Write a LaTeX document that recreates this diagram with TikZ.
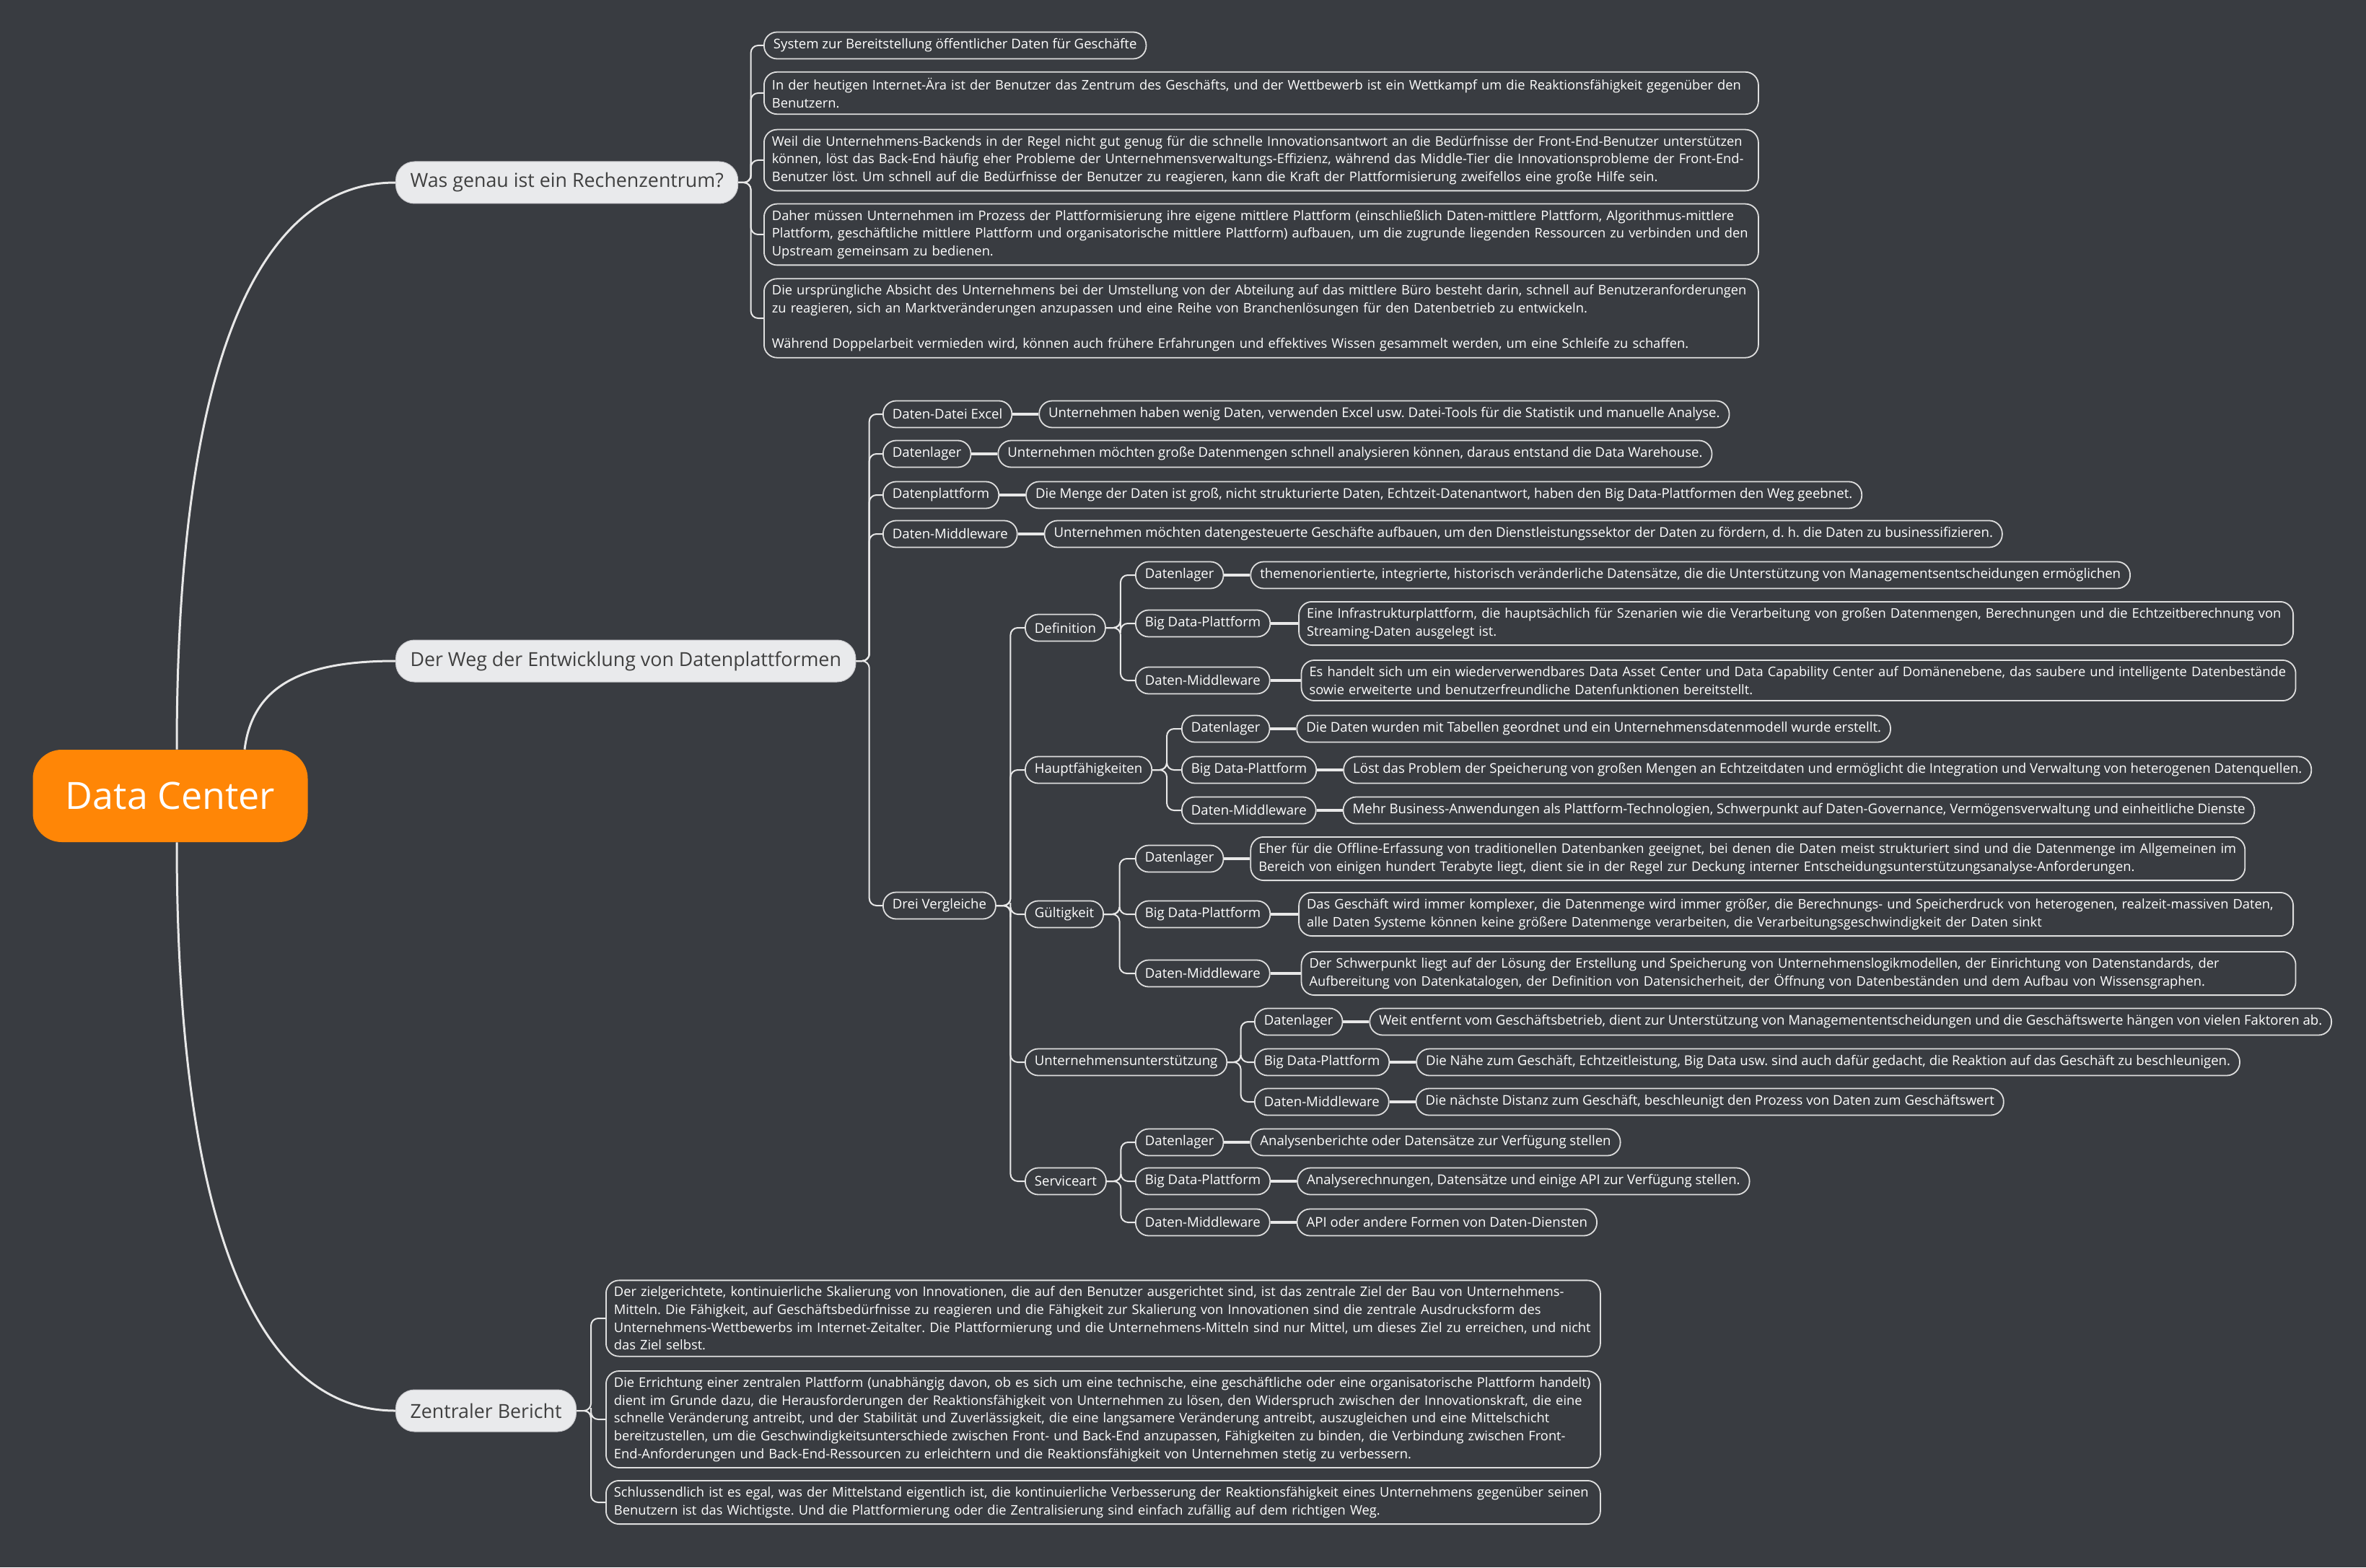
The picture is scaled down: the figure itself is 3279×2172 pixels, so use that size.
\documentclass[tikz,border=0pt]{standalone}
\usepackage{fontspec}
\setmainfont{Open Sans}
\usetikzlibrary{positioning,calc}
\definecolor{bgc}{RGB}{57,60,65}
\definecolor{rootc}{RGB}{255,134,6}
\definecolor{mainfill}{RGB}{233,234,236}
\definecolor{mainborder}{RGB}{200,200,204}
\definecolor{maintext}{RGB}{64,64,64}
\definecolor{linec}{RGB}{232,232,232}
\definecolor{boxline}{RGB}{222,222,222}
\newcommand\leaffont{\frenchspacing\fontsize{9.3}{12.3}\selectfont}
\newcommand\notefont{\frenchspacing\fontsize{9.15}{12.3}\selectfont}
\newcommand\mainfontsz{\fontsize{13.4}{16}\selectfont}
\newcommand\rootfontsz{\fontsize{26}{30}\selectfont}
\newcommand\treeconn[2]{\draw[conn] (#1.east) -| ($(#1.east)!.5!(#2.west)$) |- (#2.west);}
\newcommand\leafconn[2]{\draw[lconn] (#1.east) -- (#2.west);}
\tikzset{
 rootnode/.style={fill=rootc, text=white, rounded corners=20pt, minimum width=190.5pt, minimum height=64pt, font=\rootfontsz, inner sep=0pt},
 mainnode/.style={fill=mainfill, draw=mainborder, line width=0.5pt, text=maintext, rounded corners=13pt, minimum height=29pt, inner xsep=10pt, font=\mainfontsz, anchor=west},
 leaf/.style={draw=boxline, line width=0.9pt, rounded corners=9pt, text=white, font=\leaffont, inner xsep=6.5pt, inner ysep=4.3pt, minimum height=18.5pt, align=left, anchor=west},
 note/.style={leaf, font=\notefont, inner xsep=5.5pt, text width=678pt},
 conn/.style={draw=linec, line width=1pt, rounded corners=5pt},
 lconn/.style={draw=linec, line width=1.6pt},
 maincurve/.style={draw=linec, line width=1.5pt},
}
\begin{document}
\begin{tikzpicture}[x=0.5pt,y=-0.5pt]
\useasboundingbox (0,0) rectangle (3279,2172);
\fill[bgc] (0,0) rectangle (3279,2172);

% root and main topics
\node[rootnode] (root) at (236,1103) {Data Center};
\node[mainnode] (m1) at (548,253) {Was genau ist ein Rechenzentrum?};
\node[mainnode] (m2) at (548,916) {Der Weg der Entwicklung von Datenplattformen};
\node[mainnode] (m3) at (548,1955) {Zentraler Bericht};

\draw[maincurve] ([xshift=4.5pt]root.north) .. controls +(0,-589) and +(-168,0) .. (m1.west);
\draw[maincurve] ([xshift=51.5pt]root.north) .. controls +(11,-89) and +(-128,0) .. (m2.west);
\draw[maincurve] ([xshift=4.5pt]root.south) .. controls +(0,589) and +(-168,0) .. (m3.west);

% ---- Was genau ist ein Rechenzentrum?
\node[leaf] (a1) at (1058,63) {System zur Bereitstellung öffentlicher Daten für Geschäfte};
\node[note] (a2) at (1058,129) {In der heutigen Internet-Ära ist der Benutzer das Zentrum des Geschäfts, und der Wettbewerb ist ein Wettkampf um die Reaktionsfähigkeit gegenüber den\\Benutzern.};
\node[note] (a3) at (1058,222) {Weil die Unternehmens-Backends in der Regel nicht gut genug für die schnelle Innovationsantwort an die Bedürfnisse der Front-End-Benutzer unterstützen\\können, löst das Back-End häufig eher Probleme der Unternehmensverwaltungs-Effizienz, während das Middle-Tier die Innovationsprobleme der Front-End-\\Benutzer löst. Um schnell auf die Bedürfnisse der Benutzer zu reagieren, kann die Kraft der Plattformisierung zweifellos eine große Hilfe sein.};
\node[note] (a4) at (1058,325) {Daher müssen Unternehmen im Prozess der Plattformisierung ihre eigene mittlere Plattform (einschließlich Daten-mittlere Plattform, Algorithmus-mittlere\\Plattform, geschäftliche mittlere Plattform und organisatorische mittlere Plattform) aufbauen, um die zugrunde liegenden Ressourcen zu verbinden und den\\Upstream gemeinsam zu bedienen.};
\node[note] (a5) at (1058,441) {Die ursprüngliche Absicht des Unternehmens bei der Umstellung von der Abteilung auf das mittlere Büro besteht darin, schnell auf Benutzeranforderungen\\zu reagieren, sich an Marktveränderungen anzupassen und eine Reihe von Branchenlösungen für den Datenbetrieb zu entwickeln.\\[12.3pt]Während Doppelarbeit vermieden wird, können auch frühere Erfahrungen und effektives Wissen gesammelt werden, um eine Schleife zu schaffen.};
\foreach \c in {a1,a2,a3,a4,a5} {\treeconn{m1}{\c}}

% ---- Der Weg der Entwicklung von Datenplattformen
\node[leaf] (b1) at (1223,574) {Daten-Datei Excel};
\node[leaf, right=18pt of b1] (b1l) {Unternehmen haben wenig Daten, verwenden Excel usw. Datei-Tools für die Statistik und manuelle Analyse.};
\node[leaf] (b2) at (1223,629) {Datenlager};
\node[leaf, right=18pt of b2] (b2l) {Unternehmen möchten große Datenmengen schnell analysieren können, daraus entstand die Data Warehouse.};
\node[leaf] (b3) at (1223,686) {Datenplattform};
\node[leaf, right=18pt of b3] (b3l) {Die Menge der Daten ist groß, nicht strukturierte Daten, Echtzeit-Datenantwort, haben den Big Data-Plattformen den Weg geebnet.};
\node[leaf] (b4) at (1223,740) {Daten-Middleware};
\node[leaf, right=18pt of b4] (b4l) {Unternehmen möchten datengesteuerte Geschäfte aufbauen, um den Dienstleistungssektor der Daten zu fördern, d. h. die Daten zu businessifizieren.};
\node[leaf] (b5) at (1223,1255) {Drei Vergleiche};
\foreach \c in {b1,b2,b3,b4,b5} {\treeconn{m2}{\c}}
\foreach \c in {b1,b2,b3,b4} {\leafconn{\c}{\c l}}

% level: Drei Vergleiche
\node[leaf] (d1) at (1420,870) {Definition};
\node[leaf] (d2) at (1420,1067) {Hauptfähigkeiten};
\node[leaf] (d3) at (1420,1267) {Gültigkeit};
\node[leaf] (d4) at (1420,1472) {Unternehmensunterstützung};
\node[leaf] (d5) at (1420,1637) {Serviceart};
\foreach \c in {d1,d2,d3,d4,d5} {\treeconn{b5}{\c}}

% Definition
\node[leaf] (d1a) at (1573,797) {Datenlager};
\node[leaf, right=18pt of d1a] (d1al) {themenorientierte, integrierte, historisch veränderliche Datensätze, die die Unterstützung von Managementsentscheidungen ermöglichen};
\node[leaf] (d1b) at (1573,864) {Big Data-Plattform};
\node[note, right=19pt of d1b] (d1bl) {Eine Infrastrukturplattform, die hauptsächlich für Szenarien wie die Verarbeitung von großen Datenmengen, Berechnungen und die Echtzeitberechnung von\\Streaming-Daten ausgelegt ist.};
\node[leaf] (d1c) at (1573,943) {Daten-Middleware};
\node[note, right=21pt of d1c] (d1cl) {Es handelt sich um ein wiederverwendbares Data Asset Center und Data Capability Center auf Domänenebene, das saubere und intelligente Datenbestände\\sowie erweiterte und benutzerfreundliche Datenfunktionen bereitstellt.};

% Hauptfähigkeiten
\node[leaf] (d2a) at (1637,1010) {Datenlager};
\node[leaf, right=18pt of d2a] (d2al) {Die Daten wurden mit Tabellen geordnet und ein Unternehmensdatenmodell wurde erstellt.};
\node[leaf] (d2b) at (1637,1067) {Big Data-Plattform};
\node[leaf, right=18pt of d2b] (d2bl) {Löst das Problem der Speicherung von großen Mengen an Echtzeitdaten und ermöglicht die Integration und Verwaltung von heterogenen Datenquellen.};
\node[leaf] (d2c) at (1637,1123) {Daten-Middleware};
\node[leaf, right=18pt of d2c] (d2cl) {Mehr Business-Anwendungen als Plattform-Technologien, Schwerpunkt auf Daten-Governance, Vermögensverwaltung und einheitliche Dienste};

% Gültigkeit
\node[leaf] (d3a) at (1573,1190) {Datenlager};
\node[note, right=18pt of d3a] (d3al) {Eher für die Offline-Erfassung von traditionellen Datenbanken geeignet, bei denen die Daten meist strukturiert sind und die Datenmenge im Allgemeinen im\\Bereich von einigen hundert Terabyte liegt, dient sie in der Regel zur Deckung interner Entscheidungsunterstützungsanalyse-Anforderungen.};
\node[leaf] (d3b) at (1573,1267) {Big Data-Plattform};
\node[note, right=19pt of d3b] (d3bl) {Das Geschäft wird immer komplexer, die Datenmenge wird immer größer, die Berechnungs- und Speicherdruck von heterogenen, realzeit-massiven Daten,\\alle Daten Systeme können keine größere Datenmenge verarbeiten, die Verarbeitungsgeschwindigkeit der Daten sinkt};
\node[leaf] (d3c) at (1573,1349) {Daten-Middleware};
\node[note, right=21pt of d3c] (d3cl) {Der Schwerpunkt liegt auf der Lösung der Erstellung und Speicherung von Unternehmenslogikmodellen, der Einrichtung von Datenstandards, der\\Aufbereitung von Datenkatalogen, der Definition von Datensicherheit, der Öffnung von Datenbeständen und dem Aufbau von Wissensgraphen.};

% Unternehmensunterstützung
\node[leaf] (d4a) at (1738,1416) {Datenlager};
\node[leaf, right=18pt of d4a] (d4al) {Weit entfernt vom Geschäftsbetrieb, dient zur Unterstützung von Managemententscheidungen und die Geschäftswerte hängen von vielen Faktoren ab.};
\node[leaf] (d4b) at (1738,1472) {Big Data-Plattform};
\node[leaf, right=18pt of d4b] (d4bl) {Die Nähe zum Geschäft, Echtzeitleistung, Big Data usw. sind auch dafür gedacht, die Reaktion auf das Geschäft zu beschleunigen.};
\node[leaf] (d4c) at (1738,1527) {Daten-Middleware};
\node[leaf, right=18pt of d4c] (d4cl) {Die nächste Distanz zum Geschäft, beschleunigt den Prozess von Daten zum Geschäftswert};

% Serviceart
\node[leaf] (d5a) at (1573,1583) {Datenlager};
\node[leaf, right=18pt of d5a] (d5al) {Analysenberichte oder Datensätze zur Verfügung stellen};
\node[leaf] (d5b) at (1573,1637) {Big Data-Plattform};
\node[leaf, right=18pt of d5b] (d5bl) {Analyserechnungen, Datensätze und einige API zur Verfügung stellen.};
\node[leaf] (d5c) at (1573,1694) {Daten-Middleware};
\node[leaf, right=18pt of d5c] (d5cl) {API oder andere Formen von Daten-Diensten};

\foreach \p in {d1,d2,d3,d4,d5} {
  \foreach \s in {a,b,c} {\treeconn{\p}{\p\s}\leafconn{\p\s}{\p\s l}}
}

% ---- Zentraler Bericht
\node[note] (c1) at (839,1827) {Der zielgerichtete, kontinuierliche Skalierung von Innovationen, die auf den Benutzer ausgerichtet sind, ist das zentrale Ziel der Bau von Unternehmens-\\Mitteln. Die Fähigkeit, auf Geschäftsbedürfnisse zu reagieren und die Fähigkeit zur Skalierung von Innovationen sind die zentrale Ausdrucksform des\\Unternehmens-Wettbewerbs im Internet-Zeitalter. Die Plattformierung und die Unternehmens-Mitteln sind nur Mittel, um dieses Ziel zu erreichen, und nicht\\das Ziel selbst.};
\node[note] (c2) at (839,1967) {Die Errichtung einer zentralen Plattform (unabhängig davon, ob es sich um eine technische, eine geschäftliche oder eine organisatorische Plattform handelt)\\dient im Grunde dazu, die Herausforderungen der Reaktionsfähigkeit von Unternehmen zu lösen, den Widerspruch zwischen der Innovationskraft, die eine\\schnelle Veränderung antreibt, und der Stabilität und Zuverlässigkeit, die eine langsamere Veränderung antreibt, auszugleichen und eine Mittelschicht\\bereitzustellen, um die Geschwindigkeitsunterschiede zwischen Front- und Back-End anzupassen, Fähigkeiten zu binden, die Verbindung zwischen Front-\\End-Anforderungen und Back-End-Ressourcen zu erleichtern und die Reaktionsfähigkeit von Unternehmen stetig zu verbessern.};
\node[note] (c3) at (839,2082) {Schlussendlich ist es egal, was der Mittelstand eigentlich ist, die kontinuierliche Verbesserung der Reaktionsfähigkeit eines Unternehmens gegenüber seinen\\Benutzern ist das Wichtigste. Und die Plattformierung oder die Zentralisierung sind einfach zufällig auf dem richtigen Weg.};
\foreach \c in {c1,c2,c3} {\treeconn{m3}{\c}}
\end{tikzpicture}
\end{document}
